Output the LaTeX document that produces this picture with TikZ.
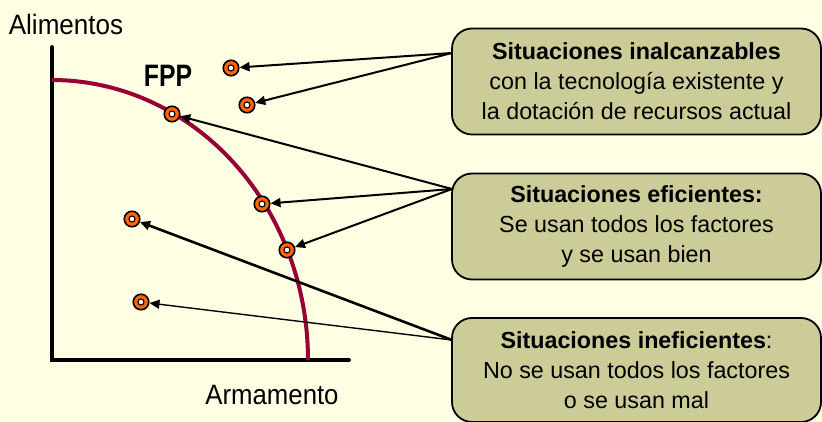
\documentclass[tikz,border=0pt]{standalone}
\usepackage{fontspec}
\setmainfont{Liberation Sans}
\usetikzlibrary{arrows.meta}
\definecolor{bgc}{HTML}{FFFFE4}
\definecolor{boxc}{HTML}{CCCC99}
\definecolor{curvec}{HTML}{990033}
\definecolor{dotc}{HTML}{FF6600}
\begin{document}
\begin{tikzpicture}[x=1pt,y=-1pt,
  boxstyle/.style={draw=black, line width=1.8pt, fill=boxc, rounded corners=20pt,
    minimum width=369pt, minimum height=106pt, align=center,
    font=\fontsize{23.3}{30}\selectfont, inner sep=0pt},
  dotstyle/.style={circle, draw=black, line width=1.6pt, fill=dotc, minimum size=15.5pt, inner sep=0pt,
    path picture={\draw[fill=white, line width=1.1pt] (path picture bounding box.center) circle (3pt);}},
  arr/.style={line width=2pt, -{Triangle[length=10pt,width=9pt]}},
  axislabel/.style={font=\fontsize{28}{30}\selectfont, inner sep=0pt}]
\fill[bgc] (0,0) rectangle (822,422);
\useasboundingbox (0,0) rectangle (822,422);
% axes
\draw[line width=4pt, line cap=round] (52,47) -- (52,360) -- (349,360);
% frontier
\draw[curvec, line width=4pt] plot[domain=0:90, samples=80, smooth] ({52+256*sin(\x)}, {360-280*cos(\x)});
% labels
\node[axislabel] (alim) at (66,24) {\scalebox{0.93}[1]{Alimentos}};
\node[axislabel] (arm) at (272,395) {\scalebox{0.92}[1]{Armamento}};
\node[axislabel, font=\fontsize{31}{32}\selectfont\bfseries] (fpp) at (168,76) {\scalebox{0.8}[1]{FPP}};
% boxes
\node[boxstyle] (box1) at (636.5,81.5) {\textbf{Situaciones inalcanzables}\\con la tecnología existente y\\la dotación de recursos actual};
\node[boxstyle] (box2) at (636.5,226.5) {\textbf{Situaciones eficientes:}\\Se usan todos los factores\\y se usan bien};
\node[boxstyle, minimum height=104pt] (box3) at (636.5,370) {\textbf{Situaciones ineficientes}:\\No se usan todos los factores\\o se usan mal};
% connection points
\coordinate (c1) at (452,53);
\coordinate (c2) at (452,189);
\coordinate (c3) at (452,340);
% dots
\node[dotstyle] (d1) at (231,68) {};
\node[dotstyle] (d2) at (247,105) {};
\node[dotstyle] (d3) at (172,114) {};
\node[dotstyle] (d4) at (262,204) {};
\node[dotstyle] (d5) at (287,250) {};
\node[dotstyle] (d6) at (132,219) {};
\node[dotstyle] (d7) at (141,302) {};
% arrows
\draw[arr] (c1) -- (d1);
\draw[arr] (c1) -- (d2);
\draw[arr] (c2) -- (d3);
\draw[arr] (c2) -- (d4);
\draw[arr] (c2) -- (d5);
\draw[arr, line width=2.6pt] (c3) -- (d6);
\draw[arr, line width=1.4pt] (c3) -- (d7);
\end{tikzpicture}
\end{document}
